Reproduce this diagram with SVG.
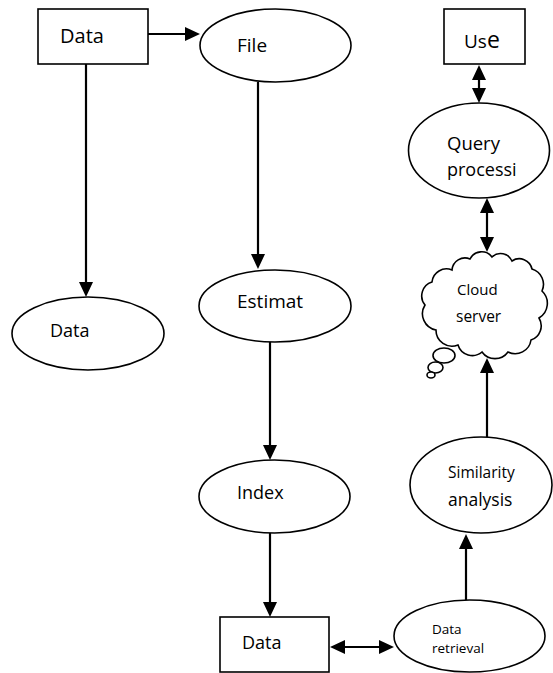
<svg xmlns="http://www.w3.org/2000/svg" width="553" height="673" viewBox="0 0 553 673">
<style>
.shape{fill:#fff;stroke:#000;stroke-width:1.6}
.conn{stroke:#000;stroke-width:2.2;fill:none}
text{font-family:"Open Sans","Liberation Sans",sans-serif;fill:#000}
</style>
<defs>
<marker id="arr" viewBox="0 0 15 14" refX="11" refY="7" markerWidth="15" markerHeight="14" markerUnits="userSpaceOnUse" orient="auto-start-reverse">
<path d="M0,0 L15,7 L0,14 z" fill="#000"/>
</marker>
</defs>
<rect width="553" height="673" fill="#fff"/>
<g id="connectors">
<line class="conn" x1="148" y1="34" x2="196" y2="34" marker-end="url(#arr)"/>
<line class="conn" x1="86" y1="64" x2="86" y2="293" marker-end="url(#arr)"/>
<line class="conn" x1="258" y1="82" x2="258" y2="265" marker-end="url(#arr)"/>
<line class="conn" x1="270" y1="342" x2="270" y2="456" marker-end="url(#arr)"/>
<line class="conn" x1="270" y1="533" x2="270" y2="613" marker-end="url(#arr)"/>
<line class="conn" x1="334" y1="647" x2="390" y2="647" marker-start="url(#arr)" marker-end="url(#arr)"/>
<line class="conn" x1="466" y1="600" x2="466" y2="538" marker-end="url(#arr)"/>
<line class="conn" x1="487" y1="437" x2="487" y2="362" marker-end="url(#arr)"/>
<line class="conn" x1="487" y1="202" x2="487" y2="248" marker-start="url(#arr)" marker-end="url(#arr)"/>
<line class="conn" x1="479" y1="69" x2="479" y2="99" marker-start="url(#arr)" marker-end="url(#arr)"/>
</g>
<g id="data-top">
<rect class="shape" x="38" y="9" width="110" height="55"/>
<text x="60" y="43" font-size="20">Data</text>
</g>
<g id="file">
<ellipse class="shape" cx="275.5" cy="45.5" rx="75.5" ry="36.5"/>
<text x="237" y="52" font-size="19">File</text>
</g>
<g id="use">
<rect class="shape" x="444" y="9" width="81" height="55"/>
<text x="464" y="48" font-size="19">Us<tspan font-size="23">e</tspan></text>
</g>
<g id="query">
<ellipse class="shape" cx="479" cy="150.5" rx="70.5" ry="47.5"/>
<text x="447" y="150" font-size="18.5">Query</text>
<text x="447" y="176" font-size="18">processi</text>
</g>
<g id="cloud">
<ellipse class="shape" cx="444" cy="355.5" rx="11" ry="7.5"/>
<ellipse class="shape" cx="435.5" cy="367.5" rx="7.5" ry="5.5"/>
<ellipse class="shape" cx="431" cy="375" rx="4" ry="3"/>
<path class="shape" d="M452,270 A13,13 0 0 1 470,259 A13,13 0 0 1 492,257 A12.5,12.5 0 0 1 512,261 A13,13 0 0 1 532,269 A16,16 0 0 1 542,291 A17,17 0 0 1 539,318 A15,15 0 0 1 531,340 A16,16 0 0 1 508,352 A16,16 0 0 1 482,352 A15,15 0 0 1 458,345 A16,16 0 0 1 436,330 A16.5,16.5 0 0 1 425,305 A14.5,14.5 0 0 1 432,282 A14.5,14.5 0 0 1 452,270 Z"/>
<text x="457" y="295" font-size="15">Cloud</text>
<text x="456" y="322" font-size="15.5">server</text>
</g>
<g id="data-left">
<ellipse class="shape" cx="88" cy="333.5" rx="76" ry="36.5"/>
<text x="50" y="337" font-size="18">Data</text>
</g>
<g id="estimat">
<ellipse class="shape" cx="275" cy="306" rx="76" ry="36"/>
<text x="237" y="308" font-size="19">Estimat</text>
</g>
<g id="index">
<ellipse class="shape" cx="274.5" cy="496.5" rx="75.5" ry="36.5"/>
<text x="237" y="499" font-size="18">Index</text>
</g>
<g id="similarity">
<ellipse class="shape" cx="481" cy="485" rx="71" ry="48"/>
<text x="448" y="478" font-size="15.5">Similarity</text>
<text x="448" y="506" font-size="17.5">analysis</text>
</g>
<g id="data-bottom">
<rect class="shape" x="220" y="617" width="109" height="55"/>
<text x="242" y="649" font-size="18">Data</text>
</g>
<g id="data-retrieval">
<ellipse class="shape" cx="469.5" cy="636" rx="75.5" ry="36"/>
<text x="432" y="634" font-size="13.5">Data</text>
<text x="432" y="653" font-size="13.5">retrieval</text>
</g>
</svg>
